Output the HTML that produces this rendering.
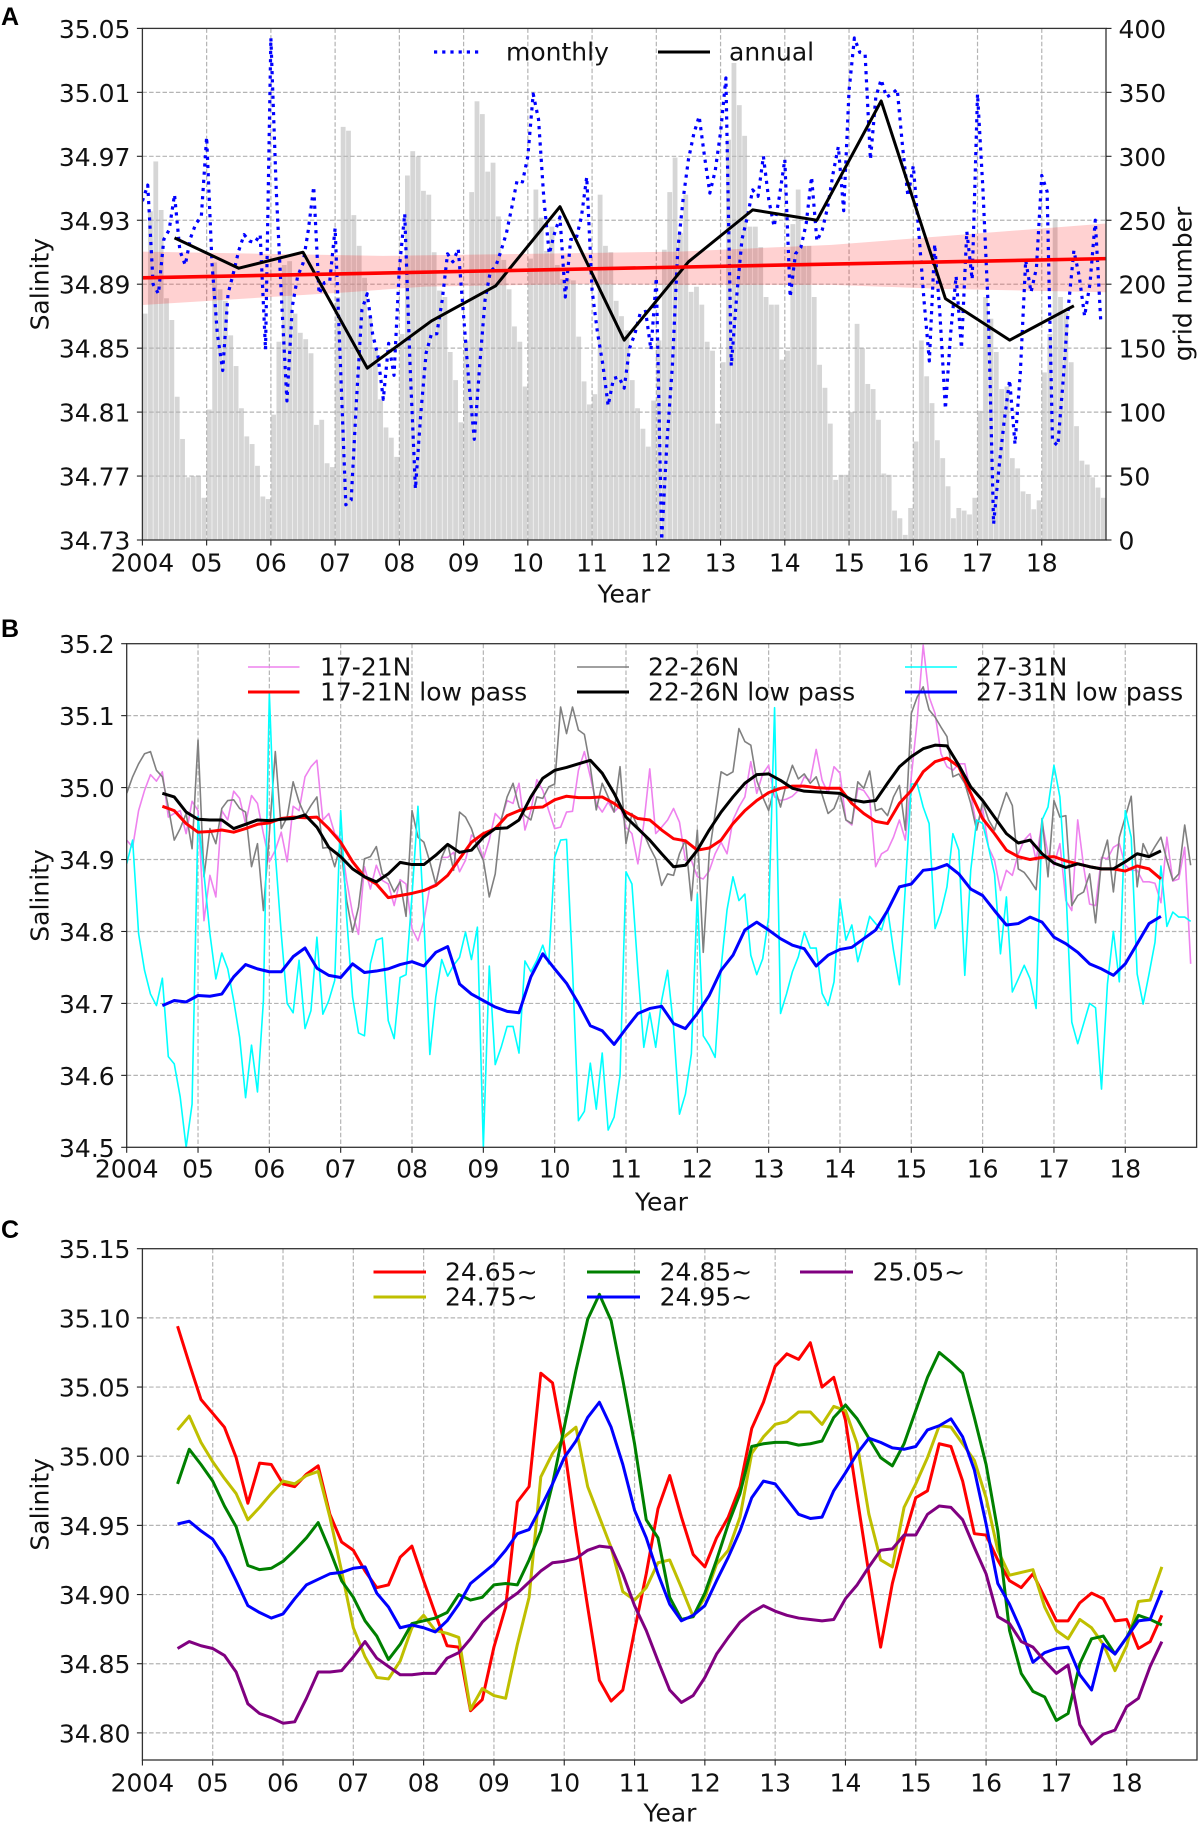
<!DOCTYPE html>
<html lang="en">
<head>
<meta charset="utf-8">
<title>Salinity time series</title>
<style>
html,body{margin:0;padding:0;background:#fff}
svg{display:block}
text{font-family:"DejaVu Sans","Liberation Sans",sans-serif;fill:#111}
.letter{font-family:"Liberation Sans",sans-serif;font-weight:bold;font-size:25px;fill:#000}
</style>
</head>
<body>
<svg id="fig" xmlns="http://www.w3.org/2000/svg" width="1204" height="1829" viewBox="0 0 1204 1829">
<text class="letter" x="1" y="25">A</text>
<text class="letter" x="1" y="637">B</text>
<text class="letter" x="1" y="1238">C</text>
</svg>
<script>
var yearTicks = ['2004','05','06','07','08','09','10','11','12','13','14','15','16','17','18'];
var aSalTicks = [35.05,35.01,34.97,34.93,34.89,34.85,34.81,34.77,34.73];
var aGridTicks = [400,350,300,250,200,150,100,50,0];
var bSalTicks = [35.2,35.1,35.0,34.9,34.8,34.7,34.6,34.5];
var cSalTicks = [35.15,35.10,35.05,35.00,34.95,34.90,34.85,34.80];

var gridNumber = [
177,257,296,258,189,172,112,79,49,50,50,33,
102,217,196,187,160,136,103,81,75,58,34,32,
98,155,215,218,177,162,157,146,90,94,60,57,
190,323,320,254,230,205,175,150,110,88,80,65,
161,285,304,300,273,270,225,195,190,147,125,92,
156,272,343,333,288,295,253,219,196,167,155,120,
220,274,252,226,245,215,204,204,203,159,124,106,
114,270,230,225,187,175,164,125,103,87,73,109,
156,227,272,299,240,270,194,198,184,155,148,91,
139,313,373,340,316,245,245,229,190,184,184,141,
148,247,274,230,230,190,137,119,91,47,51,51,
100,169,150,122,118,94,52,51,23,17,4,25,
77,156,128,107,78,64,42,17,25,23,20,33,
101,190,173,147,118,120,64,56,38,36,24,31,
131,161,251,190,178,139,89,62,59,49,41,33];

var monthlySalinity = [
34.942,34.952,34.89,34.884,34.918,34.924,34.946,34.911,34.902,34.919,34.928,34.932,
34.982,34.903,34.859,34.836,34.884,34.897,34.911,34.921,34.917,34.916,34.921,34.849,
35.044,34.949,34.88,34.817,34.876,34.895,34.903,34.924,34.951,34.884,34.891,34.892,
34.925,34.839,34.752,34.755,34.818,34.874,34.884,34.859,34.845,34.818,34.853,34.833,
34.90,34.934,34.839,34.762,34.809,34.847,34.859,34.859,34.88,34.909,34.904,34.912,
34.87,34.828,34.793,34.839,34.88,34.898,34.901,34.911,34.922,34.938,34.955,34.954,
34.97,35.009,34.993,34.943,34.909,34.922,34.932,34.882,34.918,34.918,34.932,34.957,
34.886,34.86,34.84,34.814,34.831,34.832,34.825,34.85,34.859,34.872,34.873,34.849,
34.894,34.73,34.792,34.839,34.911,34.943,34.968,34.984,34.995,34.97,34.947,34.961,
34.985,35.019,34.839,34.882,34.918,34.932,34.949,34.945,34.97,34.943,34.926,34.945,
34.968,34.882,34.909,34.913,34.928,34.957,34.917,34.924,34.938,34.959,34.976,34.936,
35.011,35.044,35.035,35.034,34.968,35.007,35.018,35.007,35.009,35.012,34.976,34.945,
34.964,34.924,34.88,34.842,34.915,34.87,34.812,34.86,34.895,34.85,34.923,34.893,
35.009,34.95,34.875,34.74,34.775,34.805,34.83,34.79,34.835,34.905,34.885,34.90,
34.958,34.948,34.792,34.789,34.83,34.877,34.911,34.895,34.87,34.89,34.93,34.868];

var annualSalinity = [34.919,34.90,34.91,34.8375,34.867,34.889,34.9385,34.855,34.904,34.9365,34.93,35.0046,34.881,34.855,34.8765];
var trendEnds = [34.894,34.906];
var bandUpperYears = [0,3.76,8.35,10.73,15];
var bandUpper = [34.9104,34.9077,34.9104,34.9146,34.928];
var bandLowerYears = [0,3.2,4.4,6.75,8.35,10.73,12.5,15];
var bandLower = [34.877,34.885,34.8885,34.890,34.8896,34.8896,34.887,34.885];

var n17 = [
34.927,34.917,34.968,34.996,35.018,35.009,35.022,34.959,34.964,34.968,34.936,34.981,
34.968,34.815,34.878,34.848,34.968,34.955,34.995,34.985,34.95,34.989,34.978,34.936,
34.897,34.913,34.938,34.897,34.974,34.968,35.015,35.029,35.038,34.955,34.964,34.936,
34.929,34.871,34.825,34.796,34.89,34.859,34.892,34.871,34.866,34.836,34.872,34.866,
34.804,34.787,34.815,34.862,34.866,34.903,34.903,34.91,34.883,34.899,34.934,34.927,
34.901,34.927,34.964,34.955,34.982,34.978,35.006,34.941,34.968,35.011,34.996,34.968,
34.943,34.945,34.966,34.967,35.024,35.05,35.015,34.978,34.966,34.98,34.966,34.975,
34.945,34.936,34.894,34.95,35.026,34.936,34.945,34.955,34.971,34.952,34.899,34.899,
34.876,34.873,34.884,34.908,34.924,34.908,34.955,34.973,34.987,35.036,34.992,35.019,
35.031,34.987,34.982,34.984,34.988,34.996,35.015,35.01,35.053,35.01,34.992,35.029,
35.02,34.955,34.948,34.999,34.996,34.984,34.89,34.908,34.913,34.931,34.955,34.927,
35.015,35.094,35.198,35.126,35.103,35.047,35.029,35.024,35.033,35.033,34.992,34.945,
34.971,34.917,34.899,34.857,34.885,34.878,34.908,34.927,34.936,34.899,34.952,34.908,
34.892,34.922,34.843,34.829,34.955,34.89,34.838,34.836,34.903,34.901,34.917,34.922,
34.892,34.885,34.885,34.869,34.869,34.867,34.84,34.931,34.87,34.873,34.917,34.755];

var n22 = [
34.992,35.015,35.033,35.047,35.05,35.024,35.015,34.973,34.927,34.943,34.964,34.915,
35.066,34.876,34.943,34.922,34.971,34.982,34.983,34.971,34.966,34.89,34.922,34.829,
34.936,35.05,34.943,34.959,35.008,34.98,34.961,34.975,34.987,34.916,34.917,34.89,
34.922,34.843,34.799,34.834,34.901,34.904,34.918,34.88,34.873,34.855,34.869,34.821,
34.968,34.931,34.924,34.897,34.866,34.903,34.922,34.885,34.966,34.959,34.943,34.917,
34.899,34.848,34.88,34.955,34.987,35.006,34.973,34.961,34.955,34.987,34.985,35.001,
35.005,35.112,35.075,35.112,35.08,35.074,35.029,34.969,35.006,34.987,34.966,35.029,
34.922,34.964,34.945,34.936,34.917,34.901,34.864,34.88,34.878,34.908,34.927,34.843,
34.941,34.771,34.908,34.964,35.022,35.017,35.022,35.082,35.064,35.059,35.01,34.987,
34.968,35.001,34.973,35.006,35.031,35.012,35.019,35.006,35.015,34.99,34.964,34.971,
34.992,34.955,34.95,35.008,34.999,35.023,34.968,34.971,34.961,34.987,35.003,34.941,
35.103,35.126,35.14,35.108,35.098,35.084,35.071,35.015,35.019,35.006,34.978,34.941,
34.98,34.955,34.941,34.968,34.993,34.975,34.887,34.882,34.871,34.858,34.957,34.876,
34.982,34.959,34.961,34.836,34.85,34.855,34.88,34.812,34.899,34.927,34.855,34.931,
34.959,34.988,34.862,34.922,34.904,34.918,34.931,34.899,34.871,34.88,34.948,34.892];

var n27 = [
34.894,34.927,34.797,34.746,34.713,34.697,34.735,34.626,34.616,34.57,34.5,34.56,
34.96,34.88,34.797,34.734,34.77,34.748,34.704,34.653,34.569,34.642,34.577,34.704,
35.131,34.908,34.797,34.7,34.687,34.76,34.665,34.69,34.792,34.685,34.704,34.732,
34.968,34.82,34.709,34.659,34.655,34.755,34.788,34.791,34.676,34.651,34.736,34.74,
34.85,34.974,34.816,34.629,34.709,34.761,34.738,34.753,34.764,34.799,34.761,34.806,
34.5,34.752,34.615,34.639,34.668,34.668,34.631,34.759,34.744,34.76,34.781,34.755,
34.903,34.927,34.928,34.75,34.537,34.55,34.617,34.553,34.631,34.524,34.542,34.6,
34.883,34.866,34.746,34.639,34.687,34.639,34.704,34.746,34.667,34.546,34.574,34.63,
34.852,34.655,34.642,34.625,34.75,34.83,34.876,34.843,34.852,34.767,34.74,34.762,
34.82,35.111,34.686,34.713,34.744,34.765,34.799,34.777,34.777,34.714,34.697,34.73,
34.845,34.788,34.809,34.758,34.788,34.821,34.811,34.802,34.832,34.774,34.726,34.862,
35.005,35.005,34.973,34.95,34.804,34.827,34.862,34.936,34.913,34.739,34.885,34.955,
34.95,34.917,34.88,34.769,34.848,34.716,34.734,34.753,34.734,34.693,34.955,34.973,
35.031,34.987,34.862,34.674,34.644,34.672,34.7,34.694,34.581,34.727,34.8,34.73,
34.968,34.931,34.741,34.699,34.741,34.785,34.891,34.807,34.827,34.82,34.82,34.814];

var n17Low = [
34.974,34.968,34.95,34.938,34.939,34.941,34.938,34.943,34.949,34.951,34.957,34.959,34.958,34.959,34.943,
34.924,34.897,34.876,34.866,34.847,34.85,34.853,34.857,34.864,34.878,34.901,34.924,34.936,34.943,34.961,
34.968,34.972,34.973,34.983,34.988,34.986,34.986,34.987,34.978,34.966,34.957,34.955,34.941,34.929,34.926,
34.913,34.916,34.927,34.95,34.968,34.982,34.993,34.999,35.002,35.002,35.0,34.999,34.999,34.978,34.964,
34.953,34.95,34.978,34.996,35.022,35.036,35.041,35.029,34.992,34.957,34.936,34.913,34.904,34.9,34.903,
34.904,34.898,34.894,34.89,34.887,34.887,34.884,34.891,34.887,34.873];

var n22Low = [
34.992,34.987,34.966,34.956,34.955,34.955,34.943,34.949,34.955,34.954,34.956,34.957,34.962,34.945,34.917,
34.904,34.887,34.876,34.869,34.88,34.896,34.893,34.893,34.906,34.921,34.91,34.913,34.931,34.943,34.944,
34.955,34.987,35.013,35.024,35.028,35.033,35.038,35.02,34.992,34.959,34.943,34.927,34.908,34.89,34.892,
34.913,34.941,34.966,34.987,35.006,35.018,35.019,35.01,34.999,34.995,34.994,34.993,34.992,34.983,34.98,
34.982,35.006,35.029,35.043,35.054,35.059,35.058,35.031,35.001,34.982,34.959,34.936,34.923,34.927,34.908,
34.895,34.889,34.894,34.89,34.887,34.887,34.897,34.908,34.904,34.912];

var n27Low = [
34.697,34.704,34.702,34.711,34.71,34.713,34.737,34.754,34.748,34.744,34.744,34.765,34.777,34.749,34.739,
34.736,34.755,34.743,34.745,34.748,34.754,34.758,34.752,34.771,34.779,34.727,34.713,34.704,34.695,34.689,
34.687,34.737,34.769,34.748,34.728,34.7,34.669,34.662,34.643,34.665,34.686,34.693,34.696,34.672,34.665,
34.686,34.711,34.746,34.767,34.802,34.813,34.802,34.79,34.781,34.776,34.752,34.767,34.775,34.778,34.79,
34.802,34.829,34.862,34.866,34.885,34.887,34.893,34.88,34.859,34.85,34.829,34.809,34.811,34.82,34.813,
34.792,34.783,34.771,34.755,34.748,34.739,34.755,34.783,34.811,34.821];

var d2465 = [
35.094,35.067,35.041,35.031,35.021,34.999,34.966,34.995,34.994,34.98,34.978,34.987,34.993,34.958,34.938,
34.932,34.917,34.905,34.907,34.927,34.935,34.91,34.886,34.863,34.862,34.816,34.824,34.862,34.891,34.967,
34.978,35.06,35.053,35.007,34.946,34.891,34.838,34.823,34.831,34.874,34.915,34.962,34.986,34.956,34.929,
34.92,34.941,34.956,34.978,35.02,35.039,35.065,35.074,35.07,35.082,35.05,35.057,35.026,34.97,34.915,
34.862,34.908,34.941,34.97,34.975,35.009,35.007,34.982,34.944,34.943,34.925,34.91,34.905,34.915,34.898,
34.881,34.881,34.894,34.901,34.897,34.881,34.882,34.861,34.866,34.885];

var d2475 = [
35.019,35.029,35.01,34.996,34.984,34.973,34.954,34.963,34.973,34.982,34.98,34.986,34.989,34.956,34.917,
34.876,34.855,34.84,34.839,34.852,34.876,34.885,34.874,34.872,34.869,34.817,34.832,34.827,34.825,34.864,
34.898,34.985,35.002,35.014,35.021,34.978,34.956,34.934,34.902,34.896,34.905,34.923,34.925,34.905,34.884,
34.898,34.922,34.932,34.956,35.002,35.014,35.023,35.025,35.032,35.032,35.023,35.036,35.033,35.009,34.958,
34.925,34.92,34.963,34.98,34.999,35.022,35.021,35.009,34.997,34.97,34.932,34.914,34.916,34.918,34.891,
34.874,34.868,34.882,34.876,34.864,34.845,34.863,34.895,34.896,34.92];

var d2485 = [
34.98,35.005,34.994,34.982,34.964,34.949,34.921,34.918,34.919,34.924,34.932,34.941,34.952,34.932,34.91,
34.898,34.881,34.87,34.853,34.864,34.879,34.881,34.883,34.887,34.9,34.896,34.898,34.907,34.908,34.907,
34.925,34.946,34.98,35.021,35.062,35.099,35.117,35.098,35.055,35.009,34.954,34.941,34.898,34.882,34.884,
34.901,34.925,34.951,34.973,35.007,35.009,35.01,35.01,35.008,35.009,35.011,35.028,35.037,35.027,35.013,
34.999,34.993,35.009,35.033,35.057,35.075,35.068,35.06,35.028,34.994,34.946,34.874,34.843,34.83,34.826,
34.809,34.814,34.85,34.868,34.87,34.857,34.869,34.885,34.882,34.878];

var d2495 = [
34.951,34.953,34.946,34.94,34.927,34.91,34.892,34.887,34.883,34.886,34.897,34.907,34.911,34.915,34.916,
34.919,34.92,34.901,34.891,34.876,34.878,34.876,34.873,34.881,34.893,34.908,34.915,34.922,34.932,34.944,
34.947,34.963,34.98,34.999,35.011,35.028,35.039,35.021,34.994,34.961,34.941,34.915,34.893,34.881,34.885,
34.892,34.91,34.927,34.946,34.97,34.982,34.98,34.969,34.958,34.955,34.956,34.975,34.988,35.002,35.013,
35.01,35.006,35.005,35.007,35.019,35.022,35.027,35.014,34.99,34.951,34.908,34.893,34.874,34.851,34.858,
34.861,34.862,34.842,34.831,34.864,34.857,34.869,34.881,34.882,34.903];

var d2505 = [
34.861,34.866,34.863,34.861,34.856,34.844,34.821,34.814,34.811,34.807,34.808,34.825,34.844,34.844,34.845,
34.855,34.866,34.854,34.848,34.842,34.842,34.843,34.843,34.854,34.858,34.868,34.88,34.888,34.895,34.901,
34.909,34.917,34.923,34.924,34.926,34.932,34.935,34.934,34.915,34.892,34.874,34.852,34.831,34.822,34.827,
34.84,34.857,34.869,34.88,34.887,34.892,34.888,34.885,34.883,34.882,34.881,34.882,34.897,34.907,34.92,
34.932,34.933,34.943,34.943,34.958,34.964,34.963,34.954,34.934,34.915,34.884,34.879,34.866,34.862,34.852,
34.843,34.849,34.806,34.792,34.799,34.802,34.819,34.825,34.848,34.866];

var NS = 'http://www.w3.org/2000/svg';
var fig = document.getElementById('fig');
var fontPx = 25;

function add(tag, name, attrs, parent) {
  var el = document.createElementNS(NS, tag);
  
  
  for (var k in attrs) el.setAttribute(k, attrs[k]);
  (parent || fig).appendChild(el);
  return el;
}
function label(name, str, x, y, size, anchor, rot) {
  var a = {x: x, y: y, 'font-size': size, 'text-anchor': anchor || 'middle', 'dominant-baseline': 'central'};
  if (rot) a.transform = 'rotate(' + rot + ' ' + x + ' ' + y + ')';
  var t = add('text', name, a);
  t.textContent = str;
  return t;
}
function Panel(id, left, right, top, bottom, yMax, yMin) {
  this.id = id; this.left = left; this.right = right; this.top = top; this.bottom = bottom;
  this.x = function (yr) { return left + (right - left) * yr / 15; };
  this.y = function (v) { return top + (bottom - top) * (yMax - v) / (yMax - yMin); };
  var cp = add('clipPath', id + '-clip', {id: id + 'clip'});
  add('rect', id + '-clip-rect', {x: left, y: top, width: right - left, height: bottom - top}, cp);
}
function poly(p, name, xs, ys, stroke, width, extra) {
  var pts = [];
  for (var i = 0; i < xs.length; i++) pts.push(p.x(xs[i]).toFixed(2) + ',' + p.y(ys[i]).toFixed(2));
  var a = {points: pts.join(' '), fill: 'none', stroke: stroke, 'stroke-width': width, 'stroke-linejoin': 'round', 'clip-path': 'url(#' + p.id + 'clip)'};
  if (extra) for (var k in extra) a[k] = extra[k];
  return add('polyline', name, a);
}
function monthsOf(arr) { return arr.map(function (_, i) { return i / 12; }); }
function lowYears(arr) { return arr.map(function (_, i) { return 0.5 + i / 6; }); }
function gridlines(p, yTicks) {
  var g = {stroke: '#b4b4b4', 'stroke-width': 1.2, 'stroke-dasharray': '4.5 2.2'};
  yearTicks.forEach(function (t, i) {
    if (i === 0) return;
    add('line', p.id + '-vgrid-' + t, Object.assign({x1: p.x(i), x2: p.x(i), y1: p.top, y2: p.bottom}, g));
  });
  yTicks.forEach(function (v, i) {
    if (i === 0 || i === yTicks.length - 1 && p.y(v) >= p.bottom - 1) return;
    add('line', p.id + '-hgrid-' + v, Object.assign({x1: p.left, x2: p.right, y1: p.y(v), y2: p.y(v)}, g));
  });
}
function axes(p, yTicks, dec, labelGap, xLabelY, yearY, yearX) {
  add('rect', p.id + '-frame', {x: p.left, y: p.top, width: p.right - p.left, height: p.bottom - p.top, fill: 'none', stroke: '#333', 'stroke-width': 1.3});
  yearTicks.forEach(function (t, i) {
    add('line', p.id + '-xtick-' + t, {x1: p.x(i), x2: p.x(i), y1: p.bottom, y2: p.bottom + 5.5, stroke: '#222', 'stroke-width': 1.1});
    label(p.id + '-xtick-label-' + t, t, p.x(i), xLabelY, fontPx);
  });
  yTicks.forEach(function (v) {
    add('line', p.id + '-ytick-' + v, {x1: p.left - 5.5, x2: p.left, y1: p.y(v), y2: p.y(v), stroke: '#222', 'stroke-width': 1.1});
    label(p.id + '-ytick-label-' + v, v.toFixed(dec), p.left - labelGap, p.y(v) + 1, fontPx, 'end');
  });
  label(p.id + '-x-axis-title', 'Year', yearX, yearY, fontPx);
  label(p.id + '-y-axis-title', 'Salinity', 40, (p.top + p.bottom) / 2, fontPx, 'middle', -90);
}
function legendLine(name, x1, x2, y, stroke, width, extra) {
  var a = {x1: x1, x2: x2, y1: y, y2: y, stroke: stroke, 'stroke-width': width};
  if (extra) for (var k in extra) a[k] = extra[k];
  add('line', name, a);
}

/* Panel A */
var A = new Panel('a', 142.4, 1106, 28.4, 540, 35.05, 34.73);
function gridY(n) { return A.bottom - (A.bottom - A.top) * n / 400; }
gridNumber.forEach(function (n, i) {
  var cx = A.x((i + 0.5) / 12);
  add('rect', 'grid-number-bar', {x: (cx - 2.4).toFixed(2), y: gridY(n).toFixed(2), width: 4.8, height: (A.bottom - gridY(n)).toFixed(2), fill: '#d6d6d6'});
});
gridlines(A, aSalTicks);
var bandPts = [];
bandUpper.forEach(function (v, i) { bandPts.push(A.x(bandUpperYears[i]) + ',' + A.y(v)); });
for (var bi = bandLower.length - 1; bi >= 0; bi--) bandPts.push(A.x(bandLowerYears[bi]) + ',' + A.y(bandLower[bi]));
add('polygon', 'trend-confidence-band', {points: bandPts.join(' '), fill: '#ff0000', 'fill-opacity': 0.18});
poly(A, 'monthly-salinity-line', monthsOf(monthlySalinity), monthlySalinity, '#0000ff', 3.2, {'stroke-dasharray': '3.2 5'});
poly(A, 'annual-salinity-line', annualSalinity.map(function (_, i) { return i + 0.5; }), annualSalinity, '#000', 3);
poly(A, 'salinity-trend-line', [0, 15], trendEnds, '#ff0000', 3.6);
axes(A, aSalTicks, 2, 12, 563, 594, 624);
aGridTicks.forEach(function (n) {
  add('line', 'a-right-tick-' + n, {x1: A.right, x2: A.right + 5.5, y1: gridY(n), y2: gridY(n), stroke: '#222', 'stroke-width': 1.1});
  label('a-right-tick-label-' + n, String(n), A.right + 12.5, gridY(n) + 1, fontPx, 'start');
});
label('a-right-axis-title', 'grid number', 1183, 284, fontPx, 'middle', -90);
legendLine('legend-monthly-line', 434, 482, 52, '#0000ff', 3.2, {'stroke-dasharray': '3.2 5'});
label('legend-monthly-label', 'monthly', 506, 52, fontPx, 'start');
legendLine('legend-annual-line', 658, 710, 52, '#000', 3);
label('legend-annual-label', 'annual', 729, 52, fontPx, 'start');

/* Panel B */
var B = new Panel('b', 126.7, 1196.6, 643.7, 1147.3, 35.2, 34.5);
gridlines(B, bSalTicks);
poly(B, 'line-17-21n', monthsOf(n17), n17, '#ee82ee', 1.6);
poly(B, 'line-22-26n', monthsOf(n22), n22, '#808080', 1.6);
poly(B, 'line-27-31n', monthsOf(n27), n27, '#00ffff', 1.6);
poly(B, 'line-17-21n-low-pass', lowYears(n17Low), n17Low, '#ff0000', 3);
poly(B, 'line-22-26n-low-pass', lowYears(n22Low), n22Low, '#000', 3);
poly(B, 'line-27-31n-low-pass', lowYears(n27Low), n27Low, '#0000ff', 3);
axes(B, bSalTicks, 1, 12, 1169, 1202, 661.5);
var bLegendY = [667, 692];
legendLine('legend-17-21n-line', 248, 299.5, bLegendY[0], '#ee82ee', 1.6);
label('legend-17-21n-label', '17-21N', 320, bLegendY[0], fontPx, 'start');
legendLine('legend-17-21n-low-line', 248, 299.5, bLegendY[1], '#ff0000', 3);
label('legend-17-21n-low-label', '17-21N low pass', 320, bLegendY[1], fontPx, 'start');
legendLine('legend-22-26n-line', 577, 629, bLegendY[0], '#808080', 1.6);
label('legend-22-26n-label', '22-26N', 648, bLegendY[0], fontPx, 'start');
legendLine('legend-22-26n-low-line', 577, 629, bLegendY[1], '#000', 3);
label('legend-22-26n-low-label', '22-26N low pass', 648, bLegendY[1], fontPx, 'start');
legendLine('legend-27-31n-line', 905, 957, bLegendY[0], '#00ffff', 1.6);
label('legend-27-31n-label', '27-31N', 976, bLegendY[0], fontPx, 'start');
legendLine('legend-27-31n-low-line', 905, 957, bLegendY[1], '#0000ff', 3);
label('legend-27-31n-low-label', '27-31N low pass', 976, bLegendY[1], fontPx, 'start');

/* Panel C */
var C = new Panel('c', 142.4, 1197, 1248.7, 1760, 35.15, 34.7804);
gridlines(C, cSalTicks.concat([34.7804]));
poly(C, 'line-24-65', lowYears(d2465), d2465, '#ff0000', 3);
poly(C, 'line-24-75', lowYears(d2475), d2475, '#bfbf00', 3);
poly(C, 'line-24-85', lowYears(d2485), d2485, '#008000', 3);
poly(C, 'line-24-95', lowYears(d2495), d2495, '#0000ff', 3);
poly(C, 'line-25-05', lowYears(d2505), d2505, '#800080', 3);
axes(C, cSalTicks, 2, 12, 1783, 1813, 670);
var cLegendY = [1272, 1297];
legendLine('legend-24-65-line', 373.5, 426, cLegendY[0], '#ff0000', 3);
label('legend-24-65-label', '24.65~', 445, cLegendY[0], fontPx, 'start');
legendLine('legend-24-75-line', 373.5, 426, cLegendY[1], '#bfbf00', 3);
label('legend-24-75-label', '24.75~', 445, cLegendY[1], fontPx, 'start');
legendLine('legend-24-85-line', 587, 640, cLegendY[0], '#008000', 3);
label('legend-24-85-label', '24.85~', 659.6, cLegendY[0], fontPx, 'start');
legendLine('legend-24-95-line', 587, 640, cLegendY[1], '#0000ff', 3);
label('legend-24-95-label', '24.95~', 659.6, cLegendY[1], fontPx, 'start');
legendLine('legend-25-05-line', 800, 853, cLegendY[0], '#800080', 3);
label('legend-25-05-label', '25.05~', 872.6, cLegendY[0], fontPx, 'start');
</script>
</body>
</html>
